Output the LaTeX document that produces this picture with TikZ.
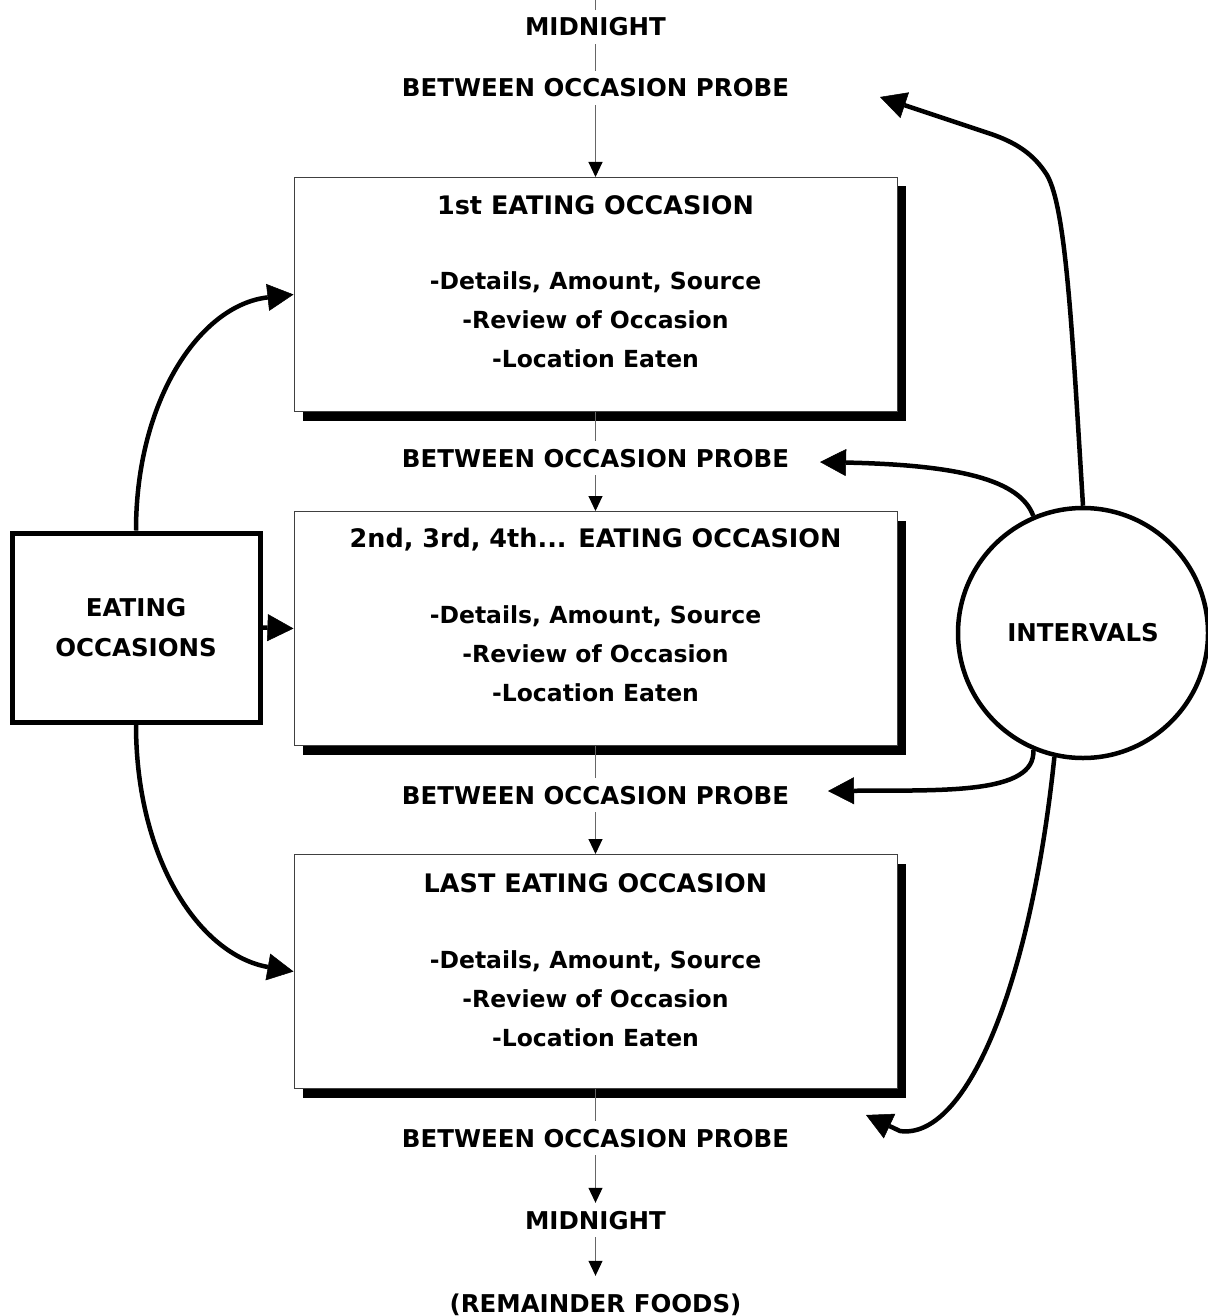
\documentclass[tikz,border=0pt]{standalone}
\usepackage{fontspec}
\setmainfont{DejaVu Sans}
\usetikzlibrary{arrows.meta,shadows}
\begin{document}
\begin{tikzpicture}[x=1pt,y=-1pt,
  lbl/.style={font=\fontsize{24.5}{30}\selectfont\bfseries, inner sep=8pt, text height=18pt, text depth=0pt},
  occbox/.style={draw=black!75, line width=1pt, fill=white, minimum width=603pt, minimum height=234pt, inner sep=0pt,
    drop shadow={shadow xshift=9pt, shadow yshift=-9pt, opacity=1, fill=black}},
  ttl/.style={font=\fontsize{25.5}{39}\selectfont\bfseries, inner sep=0pt, text height=18pt, text depth=0pt},
  body/.style={font=\fontsize{23.5}{39}\selectfont\bfseries, inner sep=0pt, align=center},
  conn/.style={draw=black!60, line width=1pt},
  vtip/.style={-{Triangle[length=15pt,width=14pt,black]}},
  bigarr/.style={line width=4.5pt, -{Triangle[length=26pt,width=27pt,line width=0.5pt]}},
  eobox/.style={draw, line width=5pt, minimum width=248pt, minimum height=189pt, inner sep=0pt, align=center,
    font=\fontsize{24.5}{40}\selectfont\bfseries},
  ivcirc/.style={draw, circle, line width=4.5pt, minimum size=250pt, inner sep=0pt,
    font=\fontsize{24.5}{30}\selectfont\bfseries}
]
\useasboundingbox (0,0) rectangle (1207,1316);

% boxes
\node[occbox] (b1) at (595.5,294.5) {};
\node[ttl] (t1) at (595.5,205) {1st EATING OCCASION};
\node[body] (d1) at (595.5,320) {-Details, Amount, Source\\-Review of Occasion\\-Location Eaten};

\node[occbox] (b2) at (595.5,628.5) {};
\node[ttl] (t2) at (595.5,538) {2nd, 3rd, 4th... EATING OCCASION};
\node[body] (d2) at (595.5,654) {-Details, Amount, Source\\-Review of Occasion\\-Location Eaten};

\node[occbox] (b3) at (595.5,971.5) {};
\node[ttl] (t3) at (595.5,883) {LAST EATING OCCASION};
\node[body] (d3) at (595.5,999) {-Details, Amount, Source\\-Review of Occasion\\-Location Eaten};

% labels on the spine
\coordinate (top) at (595.5,0);
\node[lbl] (m1) at (595.5,27) {MIDNIGHT};
\node[lbl] (p0) at (595.5,88) {BETWEEN OCCASION PROBE};
\node[lbl] (p1) at (595.5,458) {BETWEEN OCCASION PROBE};
\node[lbl] (p2) at (595.5,795) {BETWEEN OCCASION PROBE};
\node[lbl] (p3) at (595.5,1138) {BETWEEN OCCASION PROBE};
\node[lbl] (m2) at (595.5,1220) {MIDNIGHT};
\node[lbl, inner ysep=18pt] (rf) at (595.5,1303) {(REMAINDER FOODS)};

\draw[conn] (top) -- (m1.north);
\draw[conn] (m1.south) -- (p0.north);
\draw[conn,vtip] (p0.south) -- (b1.north);
\draw[conn] (b1.south) -- (p1.north);
\draw[conn,vtip] (p1.south) -- (b2.north);
\draw[conn] (b2.south) -- (p2.north);
\draw[conn,vtip] (p2.south) -- (b3.north);
\draw[conn] (b3.south) -- (p3.north);
\draw[conn,vtip] (p3.south) -- (m2.north);
\draw[conn,vtip] (m2.south) -- (rf.north);

% eating occasions
\node[eobox] (eo) at (136,627.5) {EATING\\OCCASIONS};
\draw[bigarr] (eo.north) .. controls (136,400) and (200,305) .. (b1.west);
\draw[bigarr] (eo.east) -- (b2.west);
\draw[bigarr] (eo.south) .. controls (136,860) and (200,955) .. (b3.west);

% intervals
\node[ivcirc] (iv) at (1083,633) {INTERVALS};
\coordinate (a0) at (880,97);
\coordinate (a1) at (820,462);
\coordinate (a2) at (828,791);
\coordinate (a3) at (866,1115);
\draw[bigarr] (iv.north) .. controls (1072,330) and (1066,200) .. (1045,172) .. controls (1030,150) and (1010,140) .. (985,132) -- (a0);
\draw[bigarr] (iv.113) .. controls (1020,480) and (960,465) .. (a1);
\draw[bigarr] (iv.247) .. controls (1036,795) and (940,790) .. (a2);
\draw[bigarr] (iv.257) .. controls (1030,990) and (965,1140) .. (900,1131) -- (a3);
\end{tikzpicture}
\end{document}
